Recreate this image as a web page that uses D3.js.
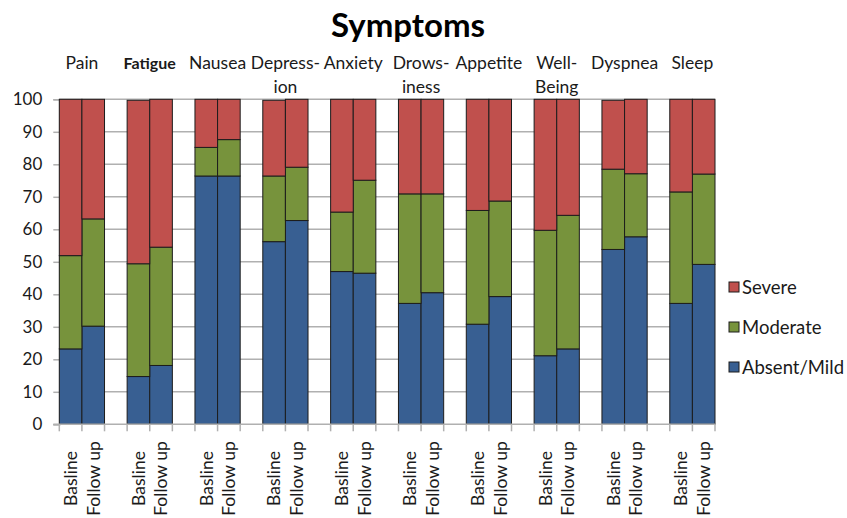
<!DOCTYPE html>
<html>
<head>
<meta charset="utf-8">
<script src="https://cdn.jsdelivr.net/npm/d3@7"></script>
<style>
  html, body { margin: 0; padding: 0; background: #fff; }
  svg { display: block; font-family: Lato, "Open Sans", sans-serif; }
</style>
</head>
<body>
<svg id="chart" width="847" height="518"></svg>
<script>
// ---- data ----
const symptoms = ["Pain", "Fatigue", "Nausea", "Depression", "Anxiety", "Drowsiness", "Appetite", "Well-Being", "Dyspnea", "Sleep"];
const symptomLabelLines = [["Pain"], ["Fatigue"], ["Nausea"], ["Depress-", "ion"], ["Anxiety"], ["Drows-", "iness"], ["Appetite"], ["Well-", "Being"], ["Dyspnea"], ["Sleep"]];
const timepoints = ["Basline", "Follow up"];
const seriesNames = ["Absent/Mild", "Moderate", "Severe"];
// values per symptom: [Basline, Follow up]
const absentMild = [23.2, 30.2, 14.7, 18.1, 76.4, 76.4, 56.2, 62.7, 47.0, 46.5, 37.2, 40.5, 30.8, 39.3, 21.1, 23.2, 53.8, 57.7, 37.2, 49.2];
const moderate   = [28.7, 33.0, 34.7, 36.4,  8.8, 11.2, 20.2, 16.4, 18.3, 28.6, 33.7, 30.4, 35.0, 29.4, 38.6, 41.1, 24.7, 19.4, 34.3, 27.8];
const severe     = [48.1, 36.8, 50.3, 45.5, 14.8, 12.4, 23.3, 20.9, 34.7, 24.9, 29.1, 29.1, 34.2, 31.3, 40.3, 35.7, 21.2, 22.9, 28.5, 23.0];
const yTicks = [0, 10, 20, 30, 40, 50, 60, 70, 80, 90, 100];

// ---- build rows ----
const rows = [];
symptoms.forEach((s, i) => {
  timepoints.forEach((t, j) => {
    const k = i * 2 + j;
    rows.push({ key: s + "|" + t, symptom: s, time: t,
      "Absent/Mild": absentMild[k], "Moderate": moderate[k], "Severe": severe[k] });
  });
});
const slots = [];
symptoms.forEach((s, i) => {
  timepoints.forEach(t => slots.push(s + "|" + t));
  if (i < symptoms.length - 1) slots.push(s + "|gap");
});

const colors = { "Absent/Mild": "#385f92", "Moderate": "#77933c", "Severe": "#c0504d" };
const gridColor = "#b0b0b0";

const svg = d3.select("#chart");
const x = d3.scaleBand().domain(slots).range([59.3, 715]).padding(0);
const y = d3.scaleLinear().domain([0, 100]).range([424.3, 99.3]);

// gridlines
svg.append("g").selectAll("line").data(yTicks.filter(d => d > 0)).join("line")
  .attr("x1", 59.3).attr("x2", 715)
  .attr("y1", d => y(d)).attr("y2", d => y(d))
  .attr("stroke", gridColor).attr("stroke-width", 1.5);

// y axis
const yAxis = svg.append("g").attr("transform", "translate(59.3,0)")
  .call(d3.axisLeft(y).tickValues(yTicks).tickSize(6).tickPadding(11));
yAxis.select(".domain").attr("stroke", gridColor).attr("stroke-width", 1.5);
yAxis.selectAll(".tick line").attr("stroke", gridColor).attr("stroke-width", 1.5);
yAxis.selectAll(".tick text").attr("font-size", 17).attr("fill", "#1a1a1a")
  .attr("font-family", "Lato, 'Open Sans', sans-serif");

// stacked bars
const stack = d3.stack().keys(seriesNames)(rows);
svg.append("g").selectAll("g").data(stack).join("g")
  .attr("fill", d => colors[d.key])
  .selectAll("rect").data(d => d).join("rect")
  .attr("x", d => x(d.data.key))
  .attr("width", x.bandwidth())
  .attr("y", d => y(d[1]))
  .attr("height", d => y(d[0]) - y(d[1]))
  .attr("stroke", "#1c1c1c").attr("stroke-width", 1);

// x axis line & ticks
const xg = svg.append("g");
xg.append("line").attr("x1", 53.3).attr("x2", 715).attr("y1", y(0)).attr("y2", y(0))
  .attr("stroke", gridColor).attr("stroke-width", 1.5);
const boundaries = slots.map(s => x(s)).concat([x(slots[slots.length - 1]) + x.bandwidth()]);
xg.selectAll("line.tk").data(boundaries).join("line").attr("class", "tk")
  .attr("x1", d => d).attr("x2", d => d)
  .attr("y1", y(0)).attr("y2", y(0) + 7)
  .attr("stroke", gridColor).attr("stroke-width", 1.5);

// x labels (rotated)
svg.append("g").selectAll("text").data(rows).join("text")
  .attr("transform", d => `translate(${x(d.key) + x.bandwidth() / 2},478.5) rotate(-90)`)
  .attr("text-anchor", "middle").attr("dy", "0.36em")
  .attr("font-size", 17.5).attr("fill", "#1a1a1a")
  .text(d => d.time);

// symptom labels on top
const topG = svg.append("g");
symptoms.forEach((s, i) => {
  const cx = x(s + "|Basline") + x.bandwidth();
  const t = topG.append("text").attr("x", cx).attr("y", 69)
    .attr("text-anchor", "middle").attr("font-size", 17.5).attr("fill", "#1a1a1a");
  symptomLabelLines[i].forEach((line, li) => {
    t.append("tspan").attr("x", cx).attr("y", 69 + li * 24).text(line)
      .attr("font-weight", s === "Fatigue" ? "bold" : null)
      .attr("font-size", s === "Fatigue" ? 16 : null);
  });
});

// title
svg.append("text").attr("x", 408).attr("y", 37).attr("text-anchor", "middle")
  .attr("font-size", 33).attr("font-weight", "bold").attr("fill", "#000")
  .text("Symptoms");

// legend
const legendOrder = ["Severe", "Moderate", "Absent/Mild"];
const lg = svg.append("g").selectAll("g").data(legendOrder).join("g")
  .attr("transform", (d, i) => `translate(729,${282 + i * 40})`);
lg.append("rect").attr("width", 10).attr("height", 10)
  .attr("fill", d => colors[d]).attr("stroke", "#1c1c1c").attr("stroke-width", 1);
lg.append("text").attr("x", 13).attr("y", 5).attr("dy", "0.36em")
  .attr("font-size", 18.5).attr("fill", "#1a1a1a").text(d => d);
</script>
</body>
</html>
